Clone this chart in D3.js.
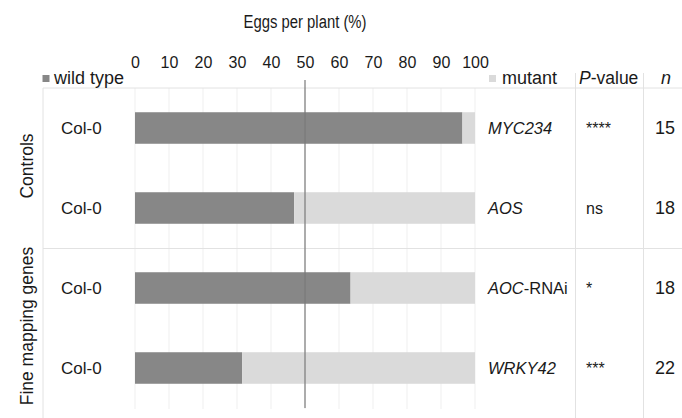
<!DOCTYPE html>
<html><head><meta charset="utf-8">
<script src="https://cdn.jsdelivr.net/npm/d3@7"></script>
<style>
body{margin:0;background:#fff;}
svg text{font-family:"Liberation Sans",Arial,sans-serif;fill:#1a1a1a;}
</style></head>
<body><svg id="c" width="682" height="418"></svg>
<script>
const rows = ["MYC234", "AOS", "AOC-RNAi", "WRKY42"];
const backgrounds = ["Col-0", "Col-0", "Col-0", "Col-0"];
const wildType = [96.3, 46.8, 63.4, 31.5];
const mutant = [3.7, 53.2, 36.6, 68.5];
const pValues = ["****", "ns", "*", "***"];
const nValues = [15, 18, 18, 22];
const groups = ["Controls", "Fine mapping genes"];
const groupRows = [[0, 1], [2, 3]];
const ticks = [0, 10, 20, 30, 40, 50, 60, 70, 80, 90, 100];

const svg = d3.select("#c");
const x = d3.scaleLinear().domain([0, 100]).range([135, 475]);
const y = d3.scaleBand().domain(rows).range([88, 408]).paddingInner(0.606).paddingOuter(0.303);
const step = y.step();

// title
svg.append("text").attr("x", x(50)).attr("y", 28).attr("text-anchor", "middle")
  .attr("font-size", 18).attr("textLength", 123).attr("lengthAdjust", "spacingAndGlyphs")
  .text("Eggs per plant (%)");

// tick labels via axis
const ax = svg.append("g").attr("transform", "translate(0,68)")
  .call(d3.axisTop(x).tickValues(ticks).tickSize(0).tickPadding(0).tickFormat(d3.format("d")));
ax.select(".domain").remove();
ax.selectAll("text").attr("font-size", 16).attr("fill", "#1a1a1a")
  .attr("font-family", "Liberation Sans, Arial, sans-serif").attr("dy", 0);

// gridlines
svg.append("g").selectAll("line").data(ticks).join("line")
  .attr("x1", d => x(d)).attr("x2", d => x(d)).attr("y1", 88).attr("y2", 409)
  .attr("stroke", "#efefef").attr("stroke-width", 1);

// table lines
const lineColor = "#e2e2e2";
svg.append("line").attr("x1", 43).attr("x2", 682).attr("y1", 88).attr("y2", 88).attr("stroke", lineColor);
svg.append("line").attr("x1", 43).attr("x2", 682).attr("y1", y(rows[2]) - step * y.paddingInner() / 2 + 0.5)
  .attr("y2", y(rows[2]) - step * y.paddingInner() / 2 + 0.5).attr("stroke", lineColor);
svg.append("line").attr("x1", 43).attr("x2", 43).attr("y1", 88).attr("y2", 418).attr("stroke", lineColor);
[575.5, 643.5].forEach(xx => svg.append("line").attr("x1", xx).attr("x2", xx).attr("y1", 73).attr("y2", 418).attr("stroke", lineColor));

// bars
const wtColor = "#878787", muColor = "#dadada";
svg.append("g").selectAll("rect").data(rows).join("rect")
  .attr("x", x(0)).attr("y", d => y(d)).attr("height", y.bandwidth())
  .attr("width", (d, i) => x(wildType[i]) - x(0)).attr("fill", wtColor);
svg.append("g").selectAll("rect").data(rows).join("rect")
  .attr("x", (d, i) => x(wildType[i])).attr("y", d => y(d)).attr("height", y.bandwidth())
  .attr("width", (d, i) => x(wildType[i] + mutant[i]) - x(wildType[i])).attr("fill", muColor);

// 50% line
svg.append("line").attr("x1", x(50)).attr("x2", x(50)).attr("y1", 80).attr("y2", 408)
  .attr("stroke", "#7a7a7a").attr("stroke-width", 1.2);

// legend
svg.append("rect").attr("x", 42.5).attr("y", 75).attr("width", 7).attr("height", 7).attr("fill", wtColor);
svg.append("text").attr("x", 54).attr("y", 84).attr("font-size", 18).text("wild type");
svg.append("rect").attr("x", 489).attr("y", 75).attr("width", 7).attr("height", 7).attr("fill", muColor);
svg.append("text").attr("x", 502).attr("y", 84).attr("font-size", 18).text("mutant");
const pv = svg.append("text").attr("x", 579).attr("y", 84).attr("font-size", 17.5);
pv.append("tspan").attr("font-style", "italic").text("P");
pv.append("tspan").text("-value");
svg.append("text").attr("x", 661).attr("y", 84).attr("font-size", 18).attr("font-style", "italic").text("n");

// row labels
const cy = d => y(d) + y.bandwidth() / 2;
svg.append("g").selectAll("text").data(rows).join("text")
  .attr("x", 61).attr("y", d => cy(d) + 6).attr("font-size", 17).text((d, i) => backgrounds[i]);
const gl = svg.append("g").selectAll("text").data(rows).join("text")
  .attr("x", 488).attr("y", d => cy(d) + 6).attr("font-size", 16.5);
gl.each(function(d) {
  const t = d3.select(this);
  const parts = d.split("-");
  t.append("tspan").attr("font-style", "italic").text(parts[0]);
  if (parts.length > 1) t.append("tspan").text("-" + parts.slice(1).join("-"));
});
svg.append("g").selectAll("text").data(rows).join("text")
  .attr("x", 586).attr("y", d => cy(d) + 6).attr("font-size", 16).text((d, i) => pValues[i]);
svg.append("g").selectAll("text").data(rows).join("text")
  .attr("x", 655).attr("y", d => cy(d) + 6).attr("font-size", 18).text((d, i) => nValues[i]);

// group labels
groups.forEach((g, gi) => {
  const r = groupRows[gi];
  const top = y(rows[r[0]]) - step * y.paddingInner() / 2;
  const bot = y(rows[r[r.length - 1]]) + y.bandwidth() + step * y.paddingInner() / 2;
  const mid = (top + bot) / 2 - 2;
  svg.append("text").attr("transform", `translate(33,${mid}) rotate(-90)`)
    .attr("text-anchor", "middle").attr("font-size", 17.5).text(g);
});
</script></body></html>
